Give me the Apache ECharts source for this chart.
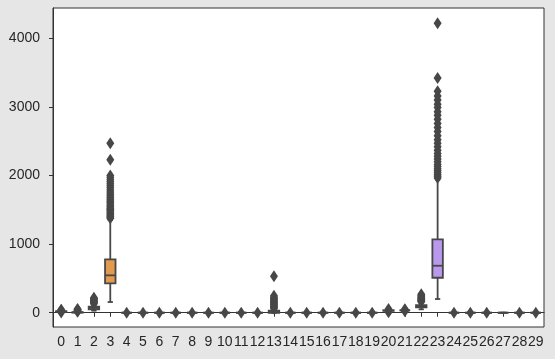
<!DOCTYPE html>
<html>
<head>
<meta charset="utf-8">
<script src="https://cdn.jsdelivr.net/npm/echarts@6/dist/echarts.min.js"></script>
<style>
html,body{margin:0;padding:0;background:#e6e6e6;}
#chart{width:555px;height:359px;}
</style>
</head>
<body>
<div id="chart"></div>
<script>
// ---------- data ----------
const categories = ['0','1','2','3','4','5','6','7','8','9','10','11','12','13','14','15','16','17','18','19','20','21','22','23','24','25','26','27','28','29'];
const whiskerLow  = [10, 0, 30, 156, 0,0,0,0,0,0,0,0,0, 0, 0,0,0,0,0,0, 20, 30, 50, 200, 0,0,0,0,0,0];
const q1Values    = [15, 2, 50, 428, 0,0,0,0,0,0,0,0,0, 0, 0,0,0,0,0,0, 28, 35, 80, 510, 0,0,0,0,0,0];
const medianVals  = [18, 5, 70, 545, 0,0,0,0,0,0,0,0,0, 10, 0,0,0,0,0,0, 32, 35, 95, 685, 0,0,0,0,0,0];
const q3Values    = [22, 8, 90, 778, 0,0,0,0,0,0,0,0,0, 30, 0,0,0,0,0,0, 36, 35, 110, 1070, 0,0,0,0,0,0];
const whiskerHigh = [30, 12, 120, 1350, 0,0,0,0,0,0,0,0,0, 55, 0,0,0,0,0,0, 45, 40, 150, 1940, 0,0,0,0,0,0];
const outliers = [
  [2, 38, 45],
  [15, 22, 30, 38, 46, 54],
  [130, 145, 158, 170, 182, 195, 208, 218],
  [1376,1395,1410,1430,1450,1470,1490,1505,1520,1540,1560,1585,1610,1630,1655,1680,1705,1730,1760,1790,1820,1850,1880,1910,1940,1970,2000,2230,2470],
  [1],[1],[1],[1],[1],[1],[1],[1],[1],
  [60,75,90,105,120,135,150,165,180,195,210,225,248,530],
  [1],[1],[1],[1],[1],[1],
  [8, 55],
  [20, 45, 50],
  [160,170,180,190,200,210,220,235,250,268],
  [1965,1990,2010,2040,2070,2100,2130,2160,2200,2240,2280,2320,2370,2420,2470,2520,2580,2640,2700,2760,2820,2880,2930,2990,3040,3100,3160,3230,3420,4220],
  [1],[1],[1],
  [],
  [1],[1]
];
const yTicks = [0, 1000, 2000, 3000, 4000];

// ---------- styles ----------
const lineColor = '#474747';
const boxColors = categories.map((c, i) => {
  if (i === 3) return '#e19a4e';
  if (i === 23) return '#b998ee';
  const h = Math.round(((i / 30) + 0.01) * 360);
  return 'hsl(' + h + ',55%,62%)';
});

const boxData = categories.map((c, i) => [i, whiskerLow[i], q1Values[i], medianVals[i], q3Values[i], whiskerHigh[i]]);
const outlierData = [];
outliers.forEach((arr, i) => arr.forEach(v => outlierData.push([i, v])));

function renderBox(params, api) {
  const x = api.value(0);
  const lo = api.coord([x, api.value(1)]);
  const q1 = api.coord([x, api.value(2)]);
  const md = api.coord([x, api.value(3)]);
  const q3 = api.coord([x, api.value(4)]);
  const hi = api.coord([x, api.value(5)]);
  const bw = api.size([1, 0])[0] * 0.64;
  const cw = bw / 2;
  const cx = lo[0];
  const ls = {stroke: lineColor, lineWidth: 1.8, fill: null};
  return {
    type: 'group',
    children: [
      {type: 'line', shape: {x1: cx, y1: lo[1], x2: cx, y2: q1[1]}, style: ls},
      {type: 'line', shape: {x1: cx, y1: q3[1], x2: cx, y2: hi[1]}, style: ls},
      {type: 'line', shape: {x1: cx - cw / 2, y1: lo[1], x2: cx + cw / 2, y2: lo[1]}, style: ls},
      {type: 'line', shape: {x1: cx - cw / 2, y1: hi[1], x2: cx + cw / 2, y2: hi[1]}, style: ls},
      {type: 'rect', shape: {x: cx - bw / 2, y: q3[1], width: bw, height: q1[1] - q3[1]},
        style: {fill: boxColors[params.dataIndex], stroke: lineColor, lineWidth: 1.8}},
      {type: 'line', shape: {x1: cx - bw / 2, y1: md[1], x2: cx + bw / 2, y2: md[1]}, style: ls}
    ]
  };
}

const chart = echarts.init(document.getElementById('chart'), null, {renderer: 'canvas'});
const font = 'Liberation Sans, Arial, sans-serif';
chart.setOption({
  backgroundColor: '#e6e6e6',
  animation: false,
  grid: {left: 53, top: 8, right: 11, bottom: 32, show: true, backgroundColor: '#ffffff', borderColor: '#333333', borderWidth: 1},
  xAxis: {
    type: 'category',
    data: categories,
    boundaryGap: true,
    axisLine: {show: true, lineStyle: {color: '#333333', width: 1}},
    axisTick: {show: true, alignWithLabel: true, length: 4, lineStyle: {color: '#333333'}},
    axisLabel: {interval: 0, color: '#262626', fontFamily: font, fontSize: 14, margin: 8},
    splitLine: {show: false}
  },
  yAxis: {
    type: 'value',
    min: -208,
    max: 4442,
    axisLine: {show: true, lineStyle: {color: '#333333', width: 1}},
    axisTick: {show: true, length: 4, lineStyle: {color: '#333333'}, customValues: yTicks},
    axisLabel: {color: '#262626', fontFamily: font, fontSize: 14, margin: 13, customValues: yTicks,
      formatter: v => String(v)},
    splitLine: {show: false}
  },
  series: [
    {
      type: 'custom',
      renderItem: renderBox,
      data: boxData,
      encode: {x: 0, y: [1, 2, 3, 4, 5]},
      z: 2
    },
    {
      type: 'scatter',
      data: outlierData,
      symbol: 'diamond',
      symbolSize: [8, 12],
      itemStyle: {color: lineColor, opacity: 1},
      z: 3
    }
  ]
});
</script>
</body>
</html>
